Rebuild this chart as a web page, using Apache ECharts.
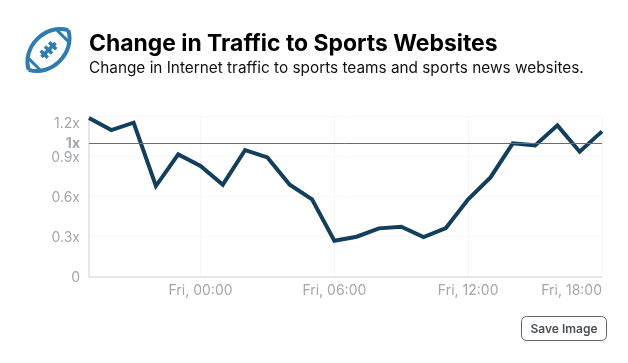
<!DOCTYPE html>
<html>
<head>
<meta charset="utf-8">
<style>
  html, body { margin: 0; padding: 0; background: #fff; }
  #chart { width: 628px; height: 363px; }
</style>
<script src="https://cdn.jsdelivr.net/npm/echarts@6/dist/echarts.min.js"></script>
</head>
<body>
<div id="chart"></div>
<script>
const hours = [
  'Thu, 19:00', 'Thu, 20:00', 'Thu, 21:00', 'Thu, 22:00', 'Thu, 23:00',
  'Fri, 00:00', 'Fri, 01:00', 'Fri, 02:00', 'Fri, 03:00', 'Fri, 04:00', 'Fri, 05:00',
  'Fri, 06:00', 'Fri, 07:00', 'Fri, 08:00', 'Fri, 09:00', 'Fri, 10:00', 'Fri, 11:00',
  'Fri, 12:00', 'Fri, 13:00', 'Fri, 14:00', 'Fri, 15:00', 'Fri, 16:00', 'Fri, 17:00',
  'Fri, 18:00',
];
const traffic = [
  1.19, 1.10, 1.155, 0.68, 0.917, 0.83, 0.69, 0.95, 0.895, 0.69, 0.58, 0.27,
  0.30, 0.3625, 0.375, 0.2975, 0.365, 0.58, 0.745, 1.0, 0.985, 1.135, 0.9375, 1.09,
];
const xTickLabels = ['Fri, 00:00', 'Fri, 06:00', 'Fri, 12:00', 'Fri, 18:00'];
const baseline = 1;
const yMax = 1.2;

const font = 'Inter, "Noto Sans", sans-serif';
const iconColor = '#2e7cb0';
const gridColor = '#f6f6f6';
const edgeColor = '#e6e6e6';
const tickColor = '#a3a6ab';

const chart = echarts.init(document.getElementById('chart'), null, { renderer: 'canvas' });

const iconStroke = (width) => ({ stroke: iconColor, lineWidth: width, fill: 'none' });

const option = {
  backgroundColor: '#fff',
  animation: false,
  title: {
    left: 89,
    top: 30,
    padding: 0,
    itemGap: 0,
    text: 'Change in Traffic to Sports Websites',
    textStyle: { fontFamily: font, fontSize: 22.9, fontWeight: 700, color: '#000', lineHeight: 29 },
    subtext: 'Change in Internet traffic to sports teams and sports news websites.',
    subtextStyle: { fontFamily: font, fontSize: 15.35, color: '#111', lineHeight: 18 },
  },
  grid: { left: 89, right: 26, top: 116.7, height: 160 },
  xAxis: {
    type: 'category',
    data: hours,
    boundaryGap: false,
    axisLine: { lineStyle: { color: edgeColor, width: 2 } },
    axisTick: { show: false },
    splitLine: {
      show: true,
      interval: (i, name) => xTickLabels.includes(name),
      lineStyle: { color: gridColor, width: 1 },
    },
    axisLabel: {
      interval: (i, name) => xTickLabels.includes(name),
      alignMaxLabel: 'right',
      color: tickColor,
      fontFamily: font,
      fontSize: 14,
      margin: 7,
    },
  },
  yAxis: {
    type: 'value',
    min: 0,
    max: yMax,
    interval: 0.3,
    axisLine: { show: true, lineStyle: { color: edgeColor, width: 2 } },
    axisTick: { show: false },
    splitLine: { lineStyle: { color: gridColor, width: 1 } },
    axisLabel: {
      color: tickColor,
      fontFamily: font,
      fontSize: 14,
      margin: 9,
      verticalAlignMaxLabel: 'top',
      // every label but the top one sits a pixel below its gridline
      formatter: (v) => {
        if (v === yMax) return v + 'x';
        return '{low|' + (v === 0 ? '0' : v + 'x') + '}';
      },
      rich: {
        low: { color: tickColor, fontFamily: font, fontSize: 14, padding: [2, 0, 0, 0] },
      },
    },
  },
  series: [{
    type: 'line',
    data: traffic,
    showSymbol: false,
    symbol: 'none',
    lineStyle: { color: '#143f5c', width: 4, join: 'miter' },
    z: 3,
    markLine: {
      silent: true,
      symbol: 'none',
      animation: false,
      lineStyle: { color: '#6b6b6b', width: 1, type: 'solid' },
      label: {
        position: 'start',
        distance: 9,
        padding: [2, 0, 0, 0],
        formatter: baseline + 'x',
        color: tickColor,
        fontFamily: font,
        fontSize: 14,
        fontWeight: 700,
      },
      data: [{ yAxis: baseline }],
    },
  }],
  graphic: [
    {
      type: 'group',
      x: 48.5,
      y: 50,
      rotation: Math.PI / 4,
      children: [
        { type: 'bezierCurve', shape: { x1: -28, y1: 0, x2: 28, y2: 0, cpx1: -17, cpy1: -21, cpx2: 17, cpy2: -21 }, style: iconStroke(4) },
        { type: 'bezierCurve', shape: { x1: -28, y1: 0, x2: 28, y2: 0, cpx1: -17, cpy1: 21, cpx2: 17, cpy2: 21 }, style: iconStroke(4) },
        { type: 'line', shape: { x1: -20, y1: -10, x2: -20, y2: 10 }, style: iconStroke(3) },
        { type: 'line', shape: { x1: 20, y1: -10, x2: 20, y2: 10 }, style: iconStroke(3) },
        { type: 'line', shape: { x1: -10, y1: 0, x2: 10, y2: 0 }, style: iconStroke(3.5) },
        { type: 'line', shape: { x1: -6, y1: -5, x2: -6, y2: 5 }, style: iconStroke(3.5) },
        { type: 'line', shape: { x1: 0, y1: -5, x2: 0, y2: 5 }, style: iconStroke(3.5) },
        { type: 'line', shape: { x1: 6, y1: -5, x2: 6, y2: 5 }, style: iconStroke(3.5) },
      ],
    },
    {
      type: 'rect',
      shape: { x: 521.5, y: 316.5, width: 85, height: 24, r: 5 },
      style: { fill: '#fff', stroke: '#5f6368', lineWidth: 1 },
    },
    {
      type: 'text',
      x: 564,
      y: 329,
      style: {
        text: 'Save Image',
        fontFamily: font,
        fontSize: 12,
        fontWeight: 600,
        fill: '#4a4f55',
        align: 'center',
        verticalAlign: 'middle',
      },
    },
  ],
};

chart.setOption(option);
</script>
</body>
</html>
